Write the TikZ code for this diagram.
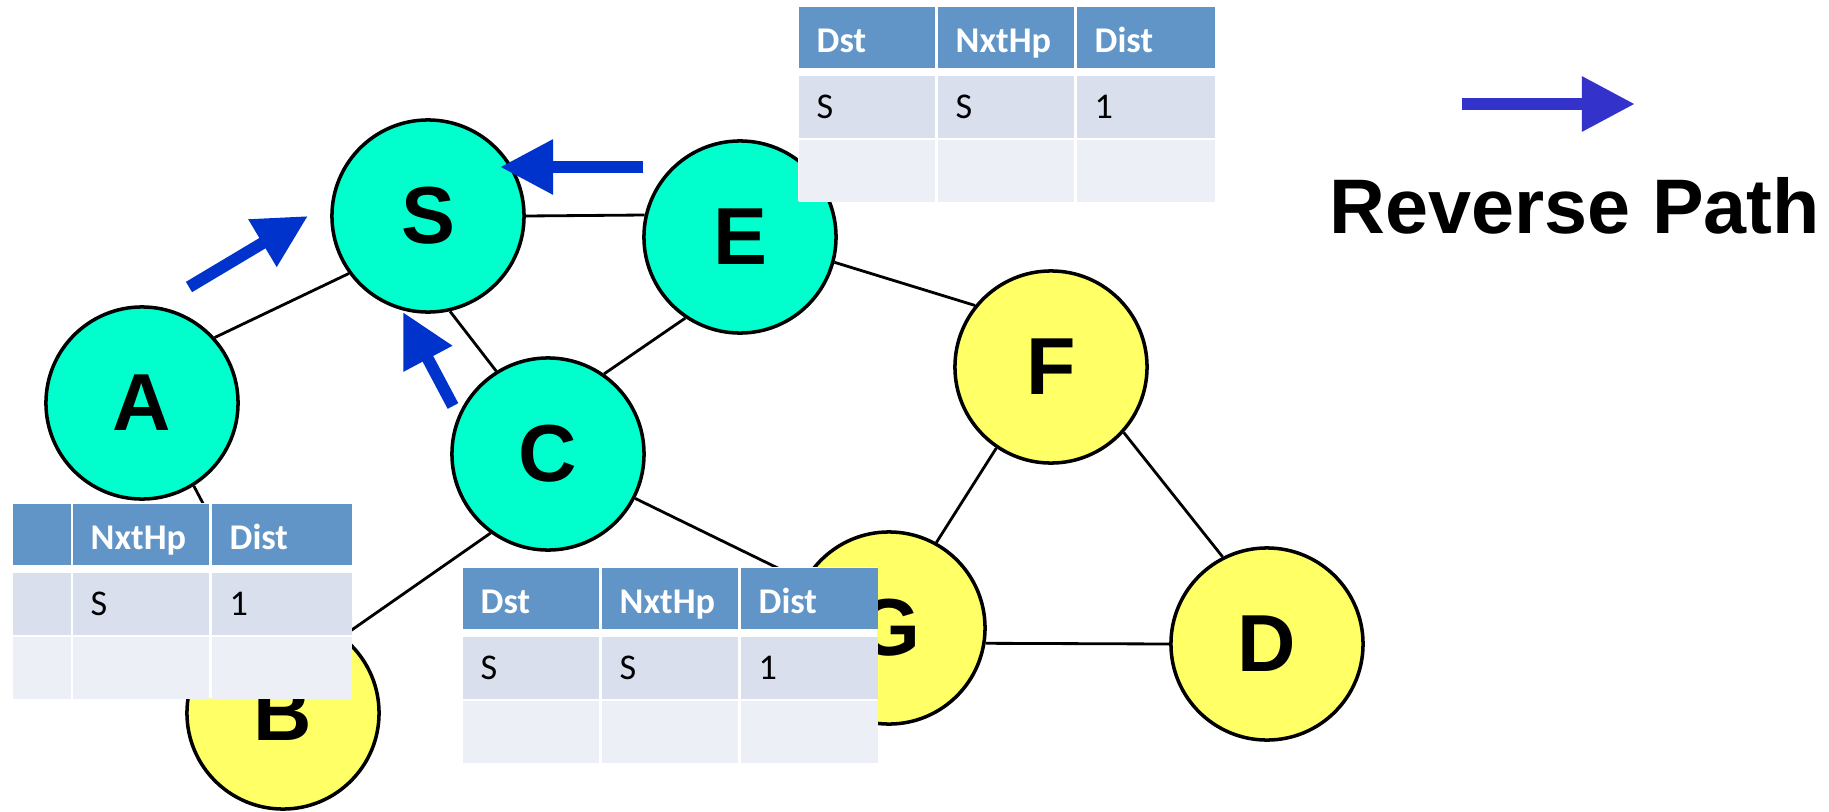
\documentclass[tikz,border=0pt]{standalone}
\usepackage{fontspec}
\setmainfont{Carlito}
\newfontfamily\vtxfont{Liberation Sans}
\usetikzlibrary{arrows.meta}

\definecolor{vcyan}{RGB}{0,255,204}
\definecolor{vyellow}{RGB}{255,255,102}
\definecolor{revblue}{RGB}{0,51,204}
\definecolor{keyblue}{RGB}{51,51,204}
\definecolor{tabhead}{RGB}{97,149,199}
\definecolor{tabodd}{RGB}{217,223,236}
\definecolor{tabeven}{RGB}{236,239,245}

\tikzset{
  vtx/.style={circle, draw=black, line width=1pt, minimum size=1.92cm, inner sep=0pt,
    font=\vtxfont\bfseries\fontsize{23}{23}\selectfont},
  cyanvtx/.style={vtx, fill=vcyan},
  yellowvtx/.style={vtx, fill=vyellow},
  link/.style={line width=0.8pt},
  revpath/.style={draw=revblue, line width=0.12cm, -{Triangle[length=0.53cm,width=0.52cm]}},
  cell/.style={anchor=north west, inner xsep=0.18cm, inner ysep=0pt, align=left,
    text depth=0pt, font=\fontsize{10.3}{12}\selectfont},
  hdcell/.style={cell, fill=tabhead, text=white, minimum height=0.61cm, text height=0.31cm,
    font=\bfseries\fontsize{10.3}{12}\selectfont},
  oddcell/.style={cell, fill=tabodd, minimum height=0.62cm, text height=0.24cm},
  evencell/.style={cell, fill=tabeven, minimum height=0.62cm, text height=0.24cm}
}

\begin{document}
\begin{tikzpicture}[x=0.01cm, y=-0.01cm]
\useasboundingbox (0,0) rectangle (1829,812);

% nodes of the graph
\node[cyanvtx] (S) at (428,216) {S};
\node[cyanvtx] (E) at (740,237) {E};
\node[cyanvtx] (A) at (142,403) {A};
\node[cyanvtx] (C) at (548,454) {C};
\node[yellowvtx] (F) at (1051,367) {F};
\node[yellowvtx] (G) at (889,628) {G};
\node[yellowvtx] (D) at (1267,644) {D};
\node[yellowvtx] (B) at (283,713) {B};

\draw[link] (A.42) -- (S.216);
\draw[link] (S.0) -- (E.167);
\draw[link] (S.-77) -- (C.122);
\draw[link] (E.236) -- (C.55);
\draw[link] (E.-15) -- (F.141);
\draw[link] (F.236) -- (G.61);
\draw[link] (F.-42) -- (D.117);
\draw[link] (G.-9) -- (D.180);
\draw[link] (C.-27) -- (G.151);
\draw[link] (C.234) -- (B.52);
\draw[link] (A.-58) -- (B.102);

% table at E
\fill[white] (798,6) rectangle (1214,201);
\foreach \x/\w/\t [count=\i] in {798/1.00/Dst, 937/1.00/NxtHp, 1076/1.02/Dist}
  \node[hdcell, text width=\w cm] (tEh\i) at (\x,6) {\t};
\foreach \x/\w/\t [count=\i] in {798/1.00/S, 937/1.00/S, 1076/1.02/1}
  \node[oddcell, text width=\w cm] (tEa\i) at (\x,75) {\t};
\foreach \x/\w [count=\i] in {798/1.00, 937/1.00, 1076/1.02}
  \node[evencell, text width=\w cm] (tEb\i) at (\x,139) {};

% table at A
\fill[white] (12,503) rectangle (351,698);
\foreach \x/\w/\t [count=\i] in {12/0.22/, 72/1.00/NxtHp, 211/1.04/Dist}
  \node[hdcell, text width=\w cm] (tAh\i) at (\x,503) {\t};
\foreach \x/\w/\t [count=\i] in {12/0.22/, 72/1.00/S, 211/1.04/1}
  \node[oddcell, text width=\w cm] (tAa\i) at (\x,572) {\t};
\foreach \x/\w [count=\i] in {12/0.22, 72/1.00, 211/1.04}
  \node[evencell, text width=\w cm] (tAb\i) at (\x,636) {};

% table at C
\fill[white] (462,567) rectangle (877,762);
\foreach \x/\w/\t [count=\i] in {462/1.00/Dst, 601/1.00/NxtHp, 740/1.01/Dist}
  \node[hdcell, text width=\w cm] (tCh\i) at (\x,567) {\t};
\foreach \x/\w/\t [count=\i] in {462/1.00/S, 601/1.00/S, 740/1.01/1}
  \node[oddcell, text width=\w cm] (tCa\i) at (\x,636) {\t};
\foreach \x/\w [count=\i] in {462/1.00, 601/1.00, 740/1.01}
  \node[evencell, text width=\w cm] (tCb\i) at (\x,700) {};

% reverse path arrows
\coordinate (r1) at (189,287);
\coordinate (r2) at (308,216);
\coordinate (r3) at (643,167);
\coordinate (r4) at (500,167);
\coordinate (r5) at (453,406);
\coordinate (r6) at (403,312);
\draw[revpath] (r1) -- (r2);
\draw[revpath] (r3) -- (r4);
\draw[revpath] (r5) -- (r6);

% key
\coordinate (k1) at (1462,104);
\coordinate (k2) at (1635,104);
\draw[revpath, draw=keyblue] (k1) -- (k2);
\node[anchor=base, inner sep=0pt, font=\vtxfont\bfseries\fontsize{22}{22}\selectfont] (key) at (1575,233) {Reverse Path};
\end{tikzpicture}
\end{document}
